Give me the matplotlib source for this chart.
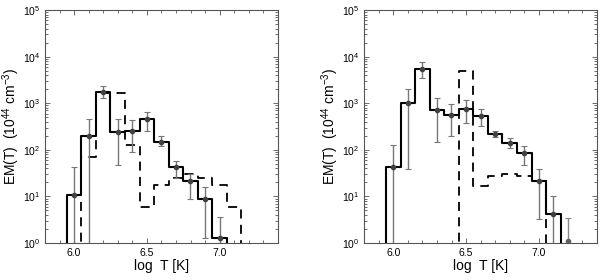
import numpy as np
import matplotlib
matplotlib.use("Agg")
import matplotlib.pyplot as plt
from matplotlib.ticker import MultipleLocator, LogLocator, NullFormatter

plt.rcParams['font.family'] = ['Liberation Sans', 'DejaVu Sans']
plt.rcParams['mathtext.fontset'] = 'custom'
plt.rcParams['mathtext.rm'] = 'Liberation Sans'

# bin centres (log T)
logT_left = [6.0, 6.1, 6.2, 6.3, 6.4, 6.5, 6.6, 6.7, 6.8, 6.9, 7.0]
em_left = [11, 200, 1750, 240, 250, 450, 150, 42, 21, 9, 1.3]
err_lo_left = [1.0, 0.9, 1300, 48, 90, 260, 120, 25, 9, 1.3, 1.0]
err_hi_left = [42, 470, 2300, 450, 430, 650, 200, 58, 30, 16, 3.6]
dash_T_left = [6.1, 6.2, 6.3, 6.4, 6.5, 6.6, 6.7, 6.8, 6.9, 7.0, 7.1]
dash_left = [70, 1700, 1700, 130, 6, 18, 25, 30, 25, 18, 6]

logT_right = [6.0, 6.1, 6.2, 6.3, 6.4, 6.5, 6.6, 6.7, 6.8, 6.9, 7.0, 7.1]
em_right = [42, 1000, 5500, 700, 570, 750, 520, 220, 140, 85, 21, 4.2]
err_lo_right = [0.9, 38, 3500, 150, 200, 380, 330, 190, 110, 48, 3.3, 0.9]
err_hi_right = [130, 2000, 7500, 1300, 950, 1150, 750, 250, 180, 120, 38, 10]
extra_T_right = [7.2]
extra_em_right = [1.1]
extra_hi_right = [3.5]
dash_T_right = [6.5, 6.6, 6.7, 6.8, 6.9, 7.0]
dash_right = [5000, 17, 28, 30, 28, 21]

BW = 0.1
FLOOR = 1.0


def step_outline(centres, vals):
    c = np.asarray(centres, float)
    v = np.asarray(vals, float)
    xs = [c[0] - BW / 2]
    ys = [FLOOR * 0.5]
    for ci, vi in zip(c, v):
        xs += [ci - BW / 2, ci + BW / 2]
        ys += [vi, vi]
    xs.append(c[-1] + BW / 2)
    ys.append(FLOOR * 0.5)
    return xs, ys


fig = plt.figure(figsize=(6, 2.8), dpi=100)
ax1 = fig.add_axes([0.075, 0.132, 0.388, 0.832])
ax2 = fig.add_axes([0.607, 0.132, 0.388, 0.832])


def style(ax):
    ax.set_yscale('log')
    ax.set_xlim(5.8, 7.4)
    ax.set_ylim(1, 1e5)
    ax.xaxis.set_major_locator(MultipleLocator(0.5))
    ax.xaxis.set_minor_locator(MultipleLocator(0.1))
    ax.xaxis.set_major_formatter(matplotlib.ticker.FormatStrFormatter('%.1f'))
    ax.yaxis.set_major_locator(LogLocator(base=10, numticks=10))
    ax.yaxis.set_minor_locator(LogLocator(base=10, subs=np.arange(2, 10), numticks=10))
    ax.yaxis.set_minor_formatter(NullFormatter())
    ax.tick_params(which='both', direction='in', top=True, right=True,
                   labelsize=7.5, color='#555555', width=0.6)
    ax.tick_params(which='major', length=3.5)
    ax.tick_params(which='minor', length=2)
    for s in ax.spines.values():
        s.set_color('#555555')
        s.set_linewidth(0.8)
    ax.set_xlabel('log  T [K]', fontsize=10, labelpad=1)
    ax.set_ylabel('EM(T)  (10$^{44}$ cm$^{-3}$)', fontsize=10)
    ax.yaxis.set_label_coords(-0.1, 0.5)


for ax, T, em, lo, hi, dT, dv in [
        (ax1, logT_left, em_left, err_lo_left, err_hi_left, dash_T_left, dash_left),
        (ax2, logT_right, em_right, err_lo_right, err_hi_right, dash_T_right, dash_right)]:
    style(ax)
    xs, ys = step_outline(dT, dv)
    ax.plot(xs, ys, color='black', lw=1.3, ls=(0, (5, 3.5)))
    xs, ys = step_outline(T, em)
    ax.plot(xs, ys, color='black', lw=1.5)
    em_a = np.asarray(em, float)
    yerr = [em_a - np.asarray(lo, float), np.asarray(hi, float) - em_a]
    ax.errorbar(T, em, yerr=yerr, fmt='o', ms=3, color='#404040',
                ecolor='#777777', elinewidth=1.0, capsize=2, capthick=0.8)

ax2.errorbar(extra_T_right, extra_em_right,
             yerr=[[0.1], [extra_hi_right[0] - extra_em_right[0]]],
             fmt='o', ms=3, color='#606060', ecolor='#888888',
             elinewidth=1.0, capsize=2, capthick=0.8, clip_on=True)

fig.savefig('out.png', dpi=100)
